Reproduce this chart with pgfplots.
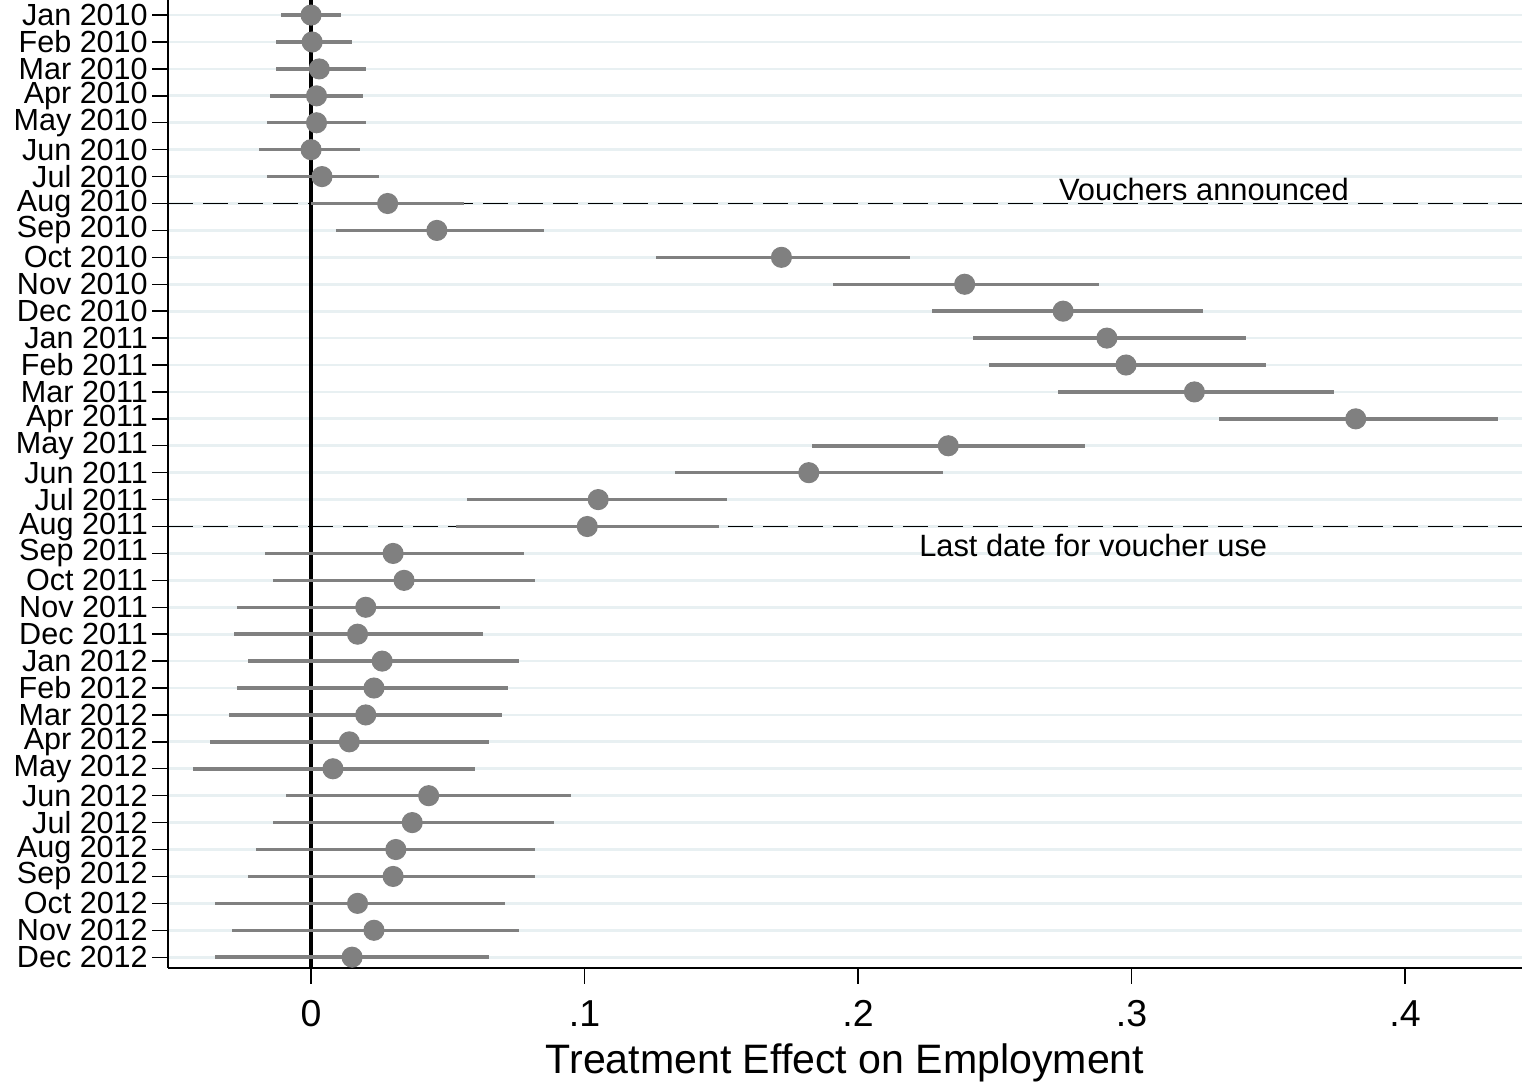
\documentclass[border=0pt]{standalone}
\usepackage{pgfplots}
\pgfplotsset{compat=1.18}
\usepackage{pgfplotstable}
\usepackage{fontspec}
\setmainfont{Liberation Sans}
\definecolor{gridc}{RGB}{232,240,242}
\definecolor{dotc}{RGB}{128,128,128}

\pgfplotstableread{
y x lo hi
0 0.000 -0.011 0.011
1 0.0004 -0.013 0.015
2 0.003 -0.013 0.020
3 0.002 -0.015 0.019
4 0.002 -0.016 0.020
5 0.000 -0.019 0.018
6 0.004 -0.016 0.025
7 0.028 0.000 0.056
8 0.046 0.009 0.085
9 0.172 0.126 0.219
10 0.239 0.191 0.288
11 0.275 0.227 0.326
12 0.291 0.242 0.342
13 0.298 0.248 0.349
14 0.323 0.273 0.374
15 0.382 0.332 0.434
16 0.233 0.183 0.283
17 0.182 0.133 0.231
18 0.105 0.057 0.152
19 0.101 0.053 0.149
20 0.030 -0.017 0.078
21 0.034 -0.014 0.082
22 0.020 -0.027 0.069
23 0.017 -0.028 0.063
24 0.026 -0.023 0.076
25 0.023 -0.027 0.072
26 0.020 -0.030 0.070
27 0.014 -0.037 0.065
28 0.008 -0.043 0.060
29 0.043 -0.009 0.095
30 0.037 -0.014 0.089
31 0.031 -0.020 0.082
32 0.030 -0.023 0.082
33 0.017 -0.035 0.071
34 0.023 -0.029 0.076
35 0.015 -0.035 0.065
}\est

\begin{document}
\begin{tikzpicture}
\begin{axis}[
  scale only axis,
  width=487.5pt, height=348.6pt,
  xmin=-0.0523, xmax=0.4428,
  ymin=-0.56, ymax=35.41,
  y dir=reverse,
  axis x line*=bottom, axis y line*=left,
  axis line style={black, line width=0.7pt},
  tick align=outside,
  major tick length=5.6pt,
  tick style={black, line width=0.5pt},
  xtick={0,0.1,0.2,0.3,0.4},
  xticklabels={0,.1,.2,.3,.4},
  xticklabel style={font=\fontsize{13.5}{15}\selectfont, yshift=-2.5pt},
  ytick={0,...,35},
  yticklabels={Jan 2010,Feb 2010,Mar 2010,Apr 2010,May 2010,Jun 2010,Jul 2010,Aug 2010,Sep 2010,Oct 2010,Nov 2010,Dec 2010,Jan 2011,Feb 2011,Mar 2011,Apr 2011,May 2011,Jun 2011,Jul 2011,Aug 2011,Sep 2011,Oct 2011,Nov 2011,Dec 2011,Jan 2012,Feb 2012,Mar 2012,Apr 2012,May 2012,Jun 2012,Jul 2012,Aug 2012,Sep 2012,Oct 2012,Nov 2012,Dec 2012},
  yticklabel style={font=\fontsize{11}{12}\selectfont, inner xsep=1.5pt, inner ysep=0pt},
  ymajorgrids,
  major grid style={color=gridc, line width=1pt},
  xlabel={Treatment Effect on Employment},
  xlabel style={font=\fontsize{14.8}{16}\selectfont, at={(axis description cs:0.5,0)}, anchor=base, yshift=-37.8pt},
  clip=false,
]
\draw[black, line width=1.4pt] (axis cs:0,-0.56) -- (axis cs:0,35.41);
\draw[black, line width=0.5pt, dash pattern=on 9pt off 3.6pt] (axis cs:-0.0523,7) -- (axis cs:0.4428,7);
\draw[black, line width=0.5pt, dash pattern=on 9pt off 3.6pt] (axis cs:-0.0523,19) -- (axis cs:0.4428,19);
\addplot[only marks, mark=*, mark size=3.6pt, color=dotc, mark options={fill=dotc, draw=dotc},
  error bars/.cd, x dir=both, x explicit, error mark=none,
  error bar style={line width=1.25pt, color=dotc}]
  table[x=x, y=y, x error plus expr=\thisrow{hi}-\thisrow{x}, x error minus expr=\thisrow{x}-\thisrow{lo}] {\est};
\node[anchor=base, font=\fontsize{11.1}{12}\selectfont] at (axis cs:0.3265,6.875) {Vouchers announced};
\node[anchor=base, font=\fontsize{11.1}{12}\selectfont] at (axis cs:0.286,20.10) {Last date for voucher use};
\end{axis}
\pgfresetboundingbox
\useasboundingbox (current axis.south west) ++(-60.5pt,-41.4pt) rectangle (current axis.north east);
\end{tikzpicture}
\end{document}
